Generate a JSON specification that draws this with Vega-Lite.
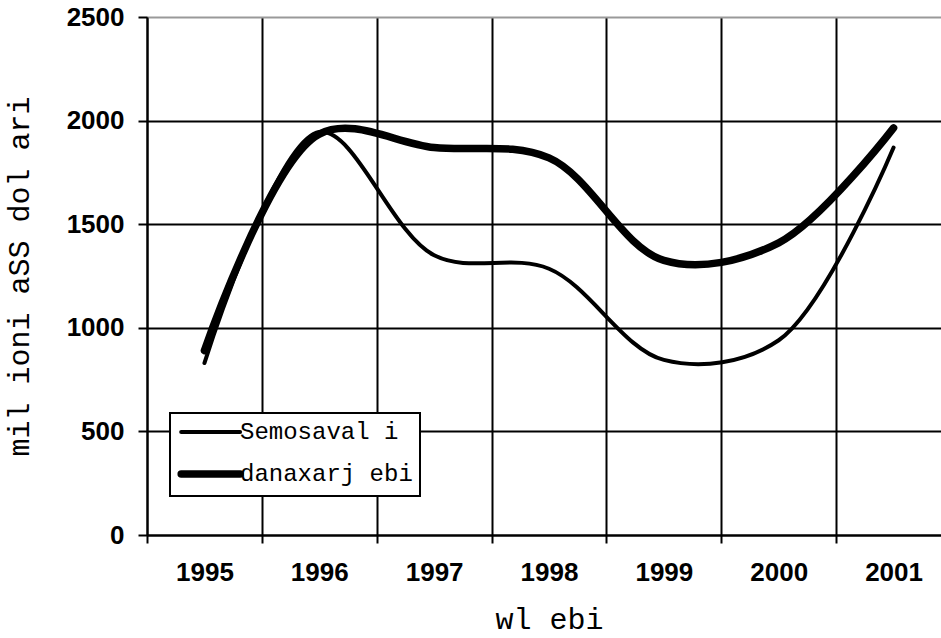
{
  "$schema": "https://vega.github.io/schema/vega-lite/v6.json",
  "width": 804,
  "height": 518,
  "autosize": {"type": "none"},
  "padding": {"left": 147, "top": 17, "right": 0, "bottom": 103},
  "background": "white",
  "config": {"view": {"stroke": null}, "font": "Liberation Sans"},
  "data": {
    "values": [
      {"year": "1995", "series": "Semosaval i", "value": 830},
      {"year": "1996", "series": "Semosaval i", "value": 1945},
      {"year": "1997", "series": "Semosaval i", "value": 1350},
      {"year": "1998", "series": "Semosaval i", "value": 1285},
      {"year": "1999", "series": "Semosaval i", "value": 845},
      {"year": "2000", "series": "Semosaval i", "value": 940},
      {"year": "2001", "series": "Semosaval i", "value": 1870},
      {"year": "1995", "series": "danaxarj ebi", "value": 890},
      {"year": "1996", "series": "danaxarj ebi", "value": 1935},
      {"year": "1997", "series": "danaxarj ebi", "value": 1870},
      {"year": "1998", "series": "danaxarj ebi", "value": 1820},
      {"year": "1999", "series": "danaxarj ebi", "value": 1325},
      {"year": "2000", "series": "danaxarj ebi", "value": 1410},
      {"year": "2001", "series": "danaxarj ebi", "value": 1965}
    ]
  },
  "mark": {"type": "line", "interpolate": "catmull-rom", "strokeCap": "round", "strokeJoin": "round", "color": "black"},
  "encoding": {
    "x": {
      "field": "year", "type": "ordinal",
      "scale": {"type": "band", "paddingInner": 0, "paddingOuter": 0},
      "axis": {
        "title": "wl ebi", "titleFont": "Liberation Mono", "titleFontSize": 30, "titleFontWeight": "normal", "titleColor": "black", "titlePadding": 19,
        "labelFont": "Liberation Sans", "labelFontSize": 26, "labelFontWeight": "bold", "labelColor": "black", "labelAngle": 0, "labelPadding": 16,
        "tickBand": "extent", "grid": true, "gridColor": "black", "gridWidth": 2, "gridOpacity": 1,
        "domainColor": "black", "domainWidth": 2, "tickColor": "black", "tickWidth": 2, "tickSize": 8
      }
    },
    "y": {
      "field": "value", "type": "quantitative",
      "scale": {"domain": [0, 2500], "nice": false},
      "axis": {
        "values": [0, 500, 1000, 1500, 2000, 2500], "format": "d",
        "title": "mil ioni aSS dol ari", "titleFont": "Liberation Mono", "titleFontSize": 30, "titleFontWeight": "normal", "titleColor": "black", "titlePadding": 32,
        "labelFont": "Liberation Sans", "labelFontSize": 26, "labelFontWeight": "bold", "labelColor": "black", "labelPadding": 14,
        "grid": true, "gridColor": {"condition": {"test": "datum.value === 2500", "value": "#999999"}, "value": "black"}, "gridWidth": 2, "gridOpacity": 1,
        "domainColor": "black", "domainWidth": 2, "tickColor": "black", "tickWidth": 2, "tickSize": 9
      }
    },
    "detail": {"field": "series", "type": "nominal"},
    "strokeWidth": {
      "field": "series", "type": "nominal",
      "scale": {"domain": ["Semosaval i", "danaxarj ebi"], "range": [4, 7.5]},
      "legend": {
        "title": null, "orient": "none", "legendX": 23, "legendY": 396,
        "symbolType": "M-1,0H5", "symbolSize": 386, "symbolStrokeColor": "black",
        "labelFont": "Liberation Mono", "labelFontSize": 24, "labelColor": "black", "labelOffset": 35, "labelLimit": 0,
        "padding": 7, "rowPadding": 15, "fillColor": "white", "strokeColor": "black",
        "encode": {
          "symbols": {"update": {"strokeCap": {"value": "round"}}},
          "legend": {"update": {"strokeWidth": {"value": 2}}}
        }
      }
    }
  }
}
